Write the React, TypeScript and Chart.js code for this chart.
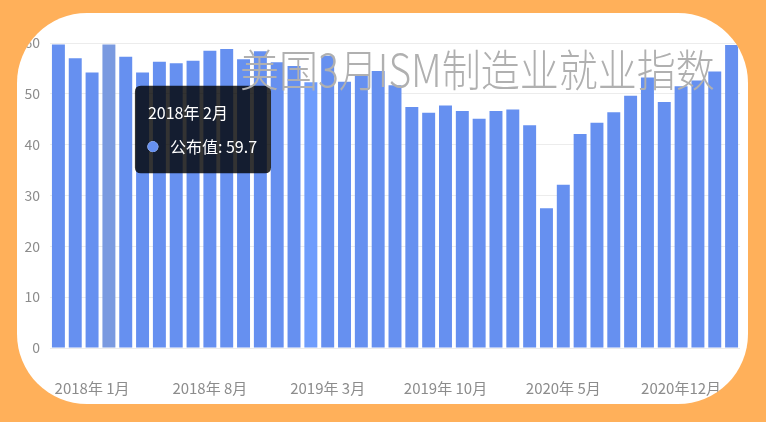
import { useEffect, useRef } from "react";
import { Chart, registerables, Tooltip } from "chart.js";

Chart.register(...registerables);

// months shown, Nov 2017 .. Mar 2021
const months: string[] = [
  "2017年 11月", "2017年 12月",
  "2018年 1月", "2018年 2月", "2018年 3月", "2018年 4月", "2018年 5月", "2018年 6月",
  "2018年 7月", "2018年 8月", "2018年 9月", "2018年 10月", "2018年 11月", "2018年 12月",
  "2019年 1月", "2019年 2月", "2019年 3月", "2019年 4月", "2019年 5月", "2019年 6月",
  "2019年 7月", "2019年 8月", "2019年 9月", "2019年 10月", "2019年 11月", "2019年 12月",
  "2020年 1月", "2020年 2月", "2020年 3月", "2020年 4月", "2020年 5月", "2020年 6月",
  "2020年 7月", "2020年 8月", "2020年 9月", "2020年 10月", "2020年 11月", "2020年12月",
  "2021年 1月", "2021年 2月", "2021年 3月",
];

const published: number[] = [
  59.7, 57.0, 54.2, 59.7, 57.3, 54.2, 56.3, 56.0, 56.5, 58.5, 58.8, 56.8, 58.4, 56.2,
  55.5, 52.3, 57.5, 52.4, 53.7, 54.5, 51.7, 47.4, 46.3, 47.7, 46.6, 45.1, 46.6, 46.9,
  43.8, 27.5, 32.1, 42.1, 44.3, 46.4, 49.6, 53.2, 48.4, 51.5, 52.6, 54.4, 59.6,
];

const yTicks: number[] = [0, 10, 20, 30, 40, 50, 60];

const hoveredIndex = 3;
const fontFamily = '"Noto Sans CJK SC", "Noto Sans", sans-serif';

(Tooltip.positioners as any).besideBar = function (items: any[]) {
  if (!items.length) return false;
  const el = items[0].element;
  return { x: el.x + 26, y: el.y + 85 };
};

export default function App() {
  const canvasRef = useRef<HTMLCanvasElement>(null);
  const chartRef = useRef<Chart | null>(null);

  useEffect(() => {
    if (!canvasRef.current) return;
    if (chartRef.current) chartRef.current.destroy();

    const chart = new Chart(canvasRef.current, {
      type: "bar",
      data: {
        labels: months,
        datasets: [
          {
            label: "公布值",
            data: published,
            backgroundColor: (ctx: any) => (ctx.dataIndex === 15 ? "#6e9cfc" : "#6690f0"),
            hoverBackgroundColor: "#7a9ae0",
            borderWidth: 0,
            categoryPercentage: 1,
            barPercentage: 0.77,
          },
        ],
      },
      options: {
        animation: false,
        responsive: true,
        maintainAspectRatio: false,
        events: [],
        layout: { padding: { left: 0, right: 26, top: 43, bottom: 14 } },
        plugins: {
          legend: { display: false },
          title: { display: false },
          tooltip: {
            position: "besideBar" as any,
            xAlign: "left",
            yAlign: "center",
            caretSize: 0,
            caretPadding: 0,
            cornerRadius: 6,
            padding: { left: 13, right: 14, top: 17, bottom: 17 },
            titleFont: { family: fontFamily, size: 16, weight: "normal" },
            bodyFont: { family: fontFamily, size: 16 },
            titleMarginBottom: 15,
            titleColor: "#ffffff",
            bodyColor: "#ffffff",
            usePointStyle: true,
            boxWidth: 10,
            boxHeight: 10,
            boxPadding: 10,
            callbacks: {
              labelColor: () => ({ borderColor: "#6690f0", backgroundColor: "#6690f0" }),
              labelPointStyle: () => ({ pointStyle: "circle", rotation: 0 }),
            },
          },
        },
        scales: {
          x: {
            grid: { display: false, drawTicks: false },
            border: { display: false },
            afterFit: (scale: any) => {
              scale.height = 60;
            },
            ticks: {
              autoSkip: false,
              maxRotation: 0,
              padding: 31,
              color: "#8c8c8c",
              font: { family: fontFamily, size: 15 },
              callback: (_v: any, i: number) => ((i - 2) % 7 === 0 ? months[i] : ""),
            },
          },
          y: {
            min: 0,
            max: 60,
            grid: { color: "#ececec", drawTicks: false },
            border: { display: false },
            afterFit: (scale: any) => {
              scale.width = 50;
            },
            afterBuildTicks: (scale: any) => {
              scale.ticks = yTicks.map((v) => ({ value: v }));
            },
            ticks: {
              padding: 10,
              color: "#8c8c8c",
              font: { family: fontFamily, size: 14 },
            },
          },
        },
      },
    });

    const active = [{ datasetIndex: 0, index: hoveredIndex }];
    chart.setActiveElements(active);
    chart.tooltip?.setActiveElements(active, { x: 0, y: 0 });
    chart.update();
    chartRef.current = chart;

    return () => {
      if (chartRef.current) {
        chartRef.current.destroy();
        chartRef.current = null;
      }
    };
  }, []);

  return (
    <div style={{ position: "fixed", left: 0, top: 0, width: 766, height: 422, background: "#ffb05a", overflow: "hidden" }}>
      <div
        style={{
          position: "absolute",
          left: 17,
          top: 13,
          width: 731,
          height: 391,
          background: "#ffffff",
          borderRadius: 70,
          overflow: "hidden",
        }}
      >
        <div style={{ position: "absolute", left: -17, top: -13, width: 766, height: 422 }}>
          <canvas ref={canvasRef} />
        </div>
        <div
          style={{
            position: "absolute",
            left: 223,
            top: 36,
            fontFamily,
            fontSize: 39,
            fontWeight: 300,
            lineHeight: "39px",
            color: "#b0b0b0",
            whiteSpace: "nowrap",
            transform: "scaleY(1.15)",
            transformOrigin: "center",
          }}
        >
          美国3月ISM制造业就业指数
        </div>
      </div>
    </div>
  );
}
